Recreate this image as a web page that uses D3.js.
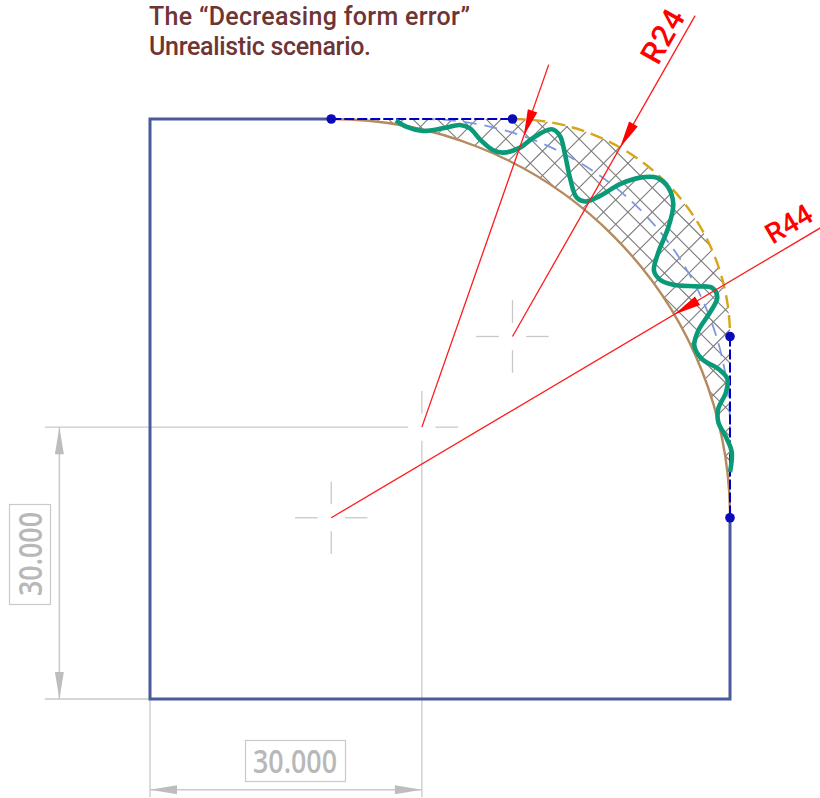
<!DOCTYPE html>
<html>
<head>
<meta charset="utf-8">
<style>
  html, body { margin: 0; padding: 0; background: #fff; }
  svg { display: block; }
</style>
<script src="https://cdn.jsdelivr.net/npm/d3@7"></script>
</head>
<body>
<script>
// all lengths in mm, origin at the lower left corner of the part
var outlinePts = [[20,64],[0,64],[0,0],[64,0],[64,20]];
var topChord = [[20,64],[40,64]];
var rightChord = [[64,40],[64,20]];
var defPts = [[20,64],[40,64],[64,40],[64,20]];

var rOuter = 24, rMid = 34, rInner = 44;
var cOuter = [40,40], cMid = [30,30], cInner = [20,20];

var profileX = [27.14,28.33,30.12,32.33,34.21,35.31,36.41,37.88,38.98,40.83,42.30,44.33,45.24,45.79,46.34,47.08,48.00,49.66,51.86,54.07,55.91,57.19,57.74,57.19,56.09,55.61,56.28,57.74,60.32,62.01,62.60,61.79,60.50,60.06,60.88,62.71,63.70,63.56,62.71,62.71,63.56,64.19,64.00];
var profileY = [63.85,63.12,62.68,62.97,63.34,62.97,61.76,60.55,60.29,60.84,61.94,62.86,62.13,60.11,57.53,55.33,54.89,55.52,56.81,57.53,57.53,56.43,54.60,52.03,49.27,47.26,46.27,45.71,45.53,45.38,44.31,42.66,40.65,39.00,37.53,36.43,35.33,33.85,32.02,30.55,28.89,27.24,25.04];

var titleLines = ['The \u201CDecreasing form error\u201D','Unrealistic scenario.'];
var titleWidths = [321,222];
var dimLabel = '30.000';
var dimValue = 30;
var radiusLeaders = [
  {c:cMid, r:rMid, end:[44,70]},
  {c:cOuter, r:rOuter, end:[60.15,75.4]},
  {c:cInner, r:rInner, end:[74,52]}
];

var width = 820, height = 798;
var x = d3.scaleLinear().domain([0,64]).range([150,730]);
var y = d3.scaleLinear().domain([0,64]).range([699,119]);
var px = function(mm) { return x(mm)-x(0); };

var svg = d3.select('body').append('svg').attr('width',width).attr('height',height);

var line = d3.line().x(function(d){return x(d[0]);}).y(function(d){return y(d[1]);});

function quarter(c,r) {
  var p = d3.path();
  p.arc(x(c[0]),y(c[1]),px(r),-Math.PI/2,0);
  return p.toString();
}

// hatched zone between the two limit radii
var zone = d3.path();
zone.moveTo(x(20),y(64));
zone.lineTo(x(40),y(64));
zone.arc(x(cOuter[0]),y(cOuter[1]),px(rOuter),-Math.PI/2,0);
zone.lineTo(x(64),y(20));
zone.arc(x(cInner[0]),y(cInner[1]),px(rInner),0,-Math.PI/2,true);
zone.closePath();

svg.append('clipPath').attr('id','zone').append('path').attr('d',zone.toString());

var hatch = svg.append('g').attr('clip-path','url(#zone)').attr('stroke','#7c7c7c').attr('stroke-width',1.1).attr('fill','none');
var step = 24.4;
d3.range(-30,40).forEach(function(i) {
  var a = 840+i*step, b = 391.4+i*step;
  hatch.append('line').attr('x1',a).attr('y1',0).attr('x2',a-800).attr('y2',800);
  hatch.append('line').attr('x1',b).attr('y1',0).attr('x2',b+800).attr('y2',800);
});

// gray dimension lines and center marks
var gray = '#c9c9c9';
var dims = svg.append('g').attr('stroke',gray).attr('fill','none');

function seg(x1,y1,x2,y2,w) {
  dims.append('line').attr('x1',x1).attr('y1',y1).attr('x2',x2).attr('y2',y2).attr('stroke-width',w||1.3);
}
function centerMark(c) {
  var cx = x(c[0]), cy = y(c[1]);
  seg(cx-px(4),cy,cx-px(1.5),cy);
  seg(cx+px(1.5),cy,cx+px(4),cy);
  seg(cx,cy-px(4),cx,cy-px(1.5));
  seg(cx,cy+px(1.5),cx,cy+px(4));
}
centerMark(cInner);
centerMark(cOuter);

// extension lines of the two 30.000 dimensions
seg(x(-11.6),y(dimValue),x(dimValue)-px(1.5),y(dimValue));
seg(x(dimValue)+px(1.5),y(dimValue),x(dimValue)+px(4),y(dimValue));
seg(x(dimValue),y(dimValue)-px(4),x(dimValue),y(dimValue)-px(1.5));
seg(x(dimValue),y(dimValue)+px(1.5),x(dimValue),y(-10.8));
seg(x(-11.6),y(0),x(0),y(0));
seg(x(0),y(0),x(0),y(-10.8));

var dimX = x(-10), dimY = y(-10);
seg(dimX,y(dimValue),dimX,y(0),1.5);
seg(x(0),dimY,x(dimValue),dimY,1.5);

function arrow(tip,dir,len,wid,col,parent) {
  var nx = -dir[1], ny = dir[0];
  (parent||svg).append('path')
    .attr('d','M'+tip[0]+','+tip[1]+'L'+(tip[0]+dir[0]*len+nx*wid/2)+','+(tip[1]+dir[1]*len+ny*wid/2)+'L'+(tip[0]+dir[0]*len-nx*wid/2)+','+(tip[1]+dir[1]*len-ny*wid/2)+'Z')
    .attr('fill',col).attr('stroke','none');
}
var arrowGray = '#bdbdbd';
arrow([dimX,y(dimValue)],[0,1],27,9,arrowGray);
arrow([dimX,y(0)],[0,-1],27,9,arrowGray);
arrow([x(0),dimY],[1,0],27,9,arrowGray);
arrow([x(dimValue),dimY],[-1,0],27,9,arrowGray);

// profile limits
svg.append('path').attr('d',quarter(cInner,rInner)).attr('fill','none').attr('stroke','#b58a5e').attr('stroke-width',2.4);
svg.append('path').attr('d',quarter(cOuter,rOuter)).attr('fill','none').attr('stroke','#d9a514').attr('stroke-width',2.4).attr('stroke-dasharray','13,7');
svg.append('path').attr('d',quarter(cMid,rMid)).attr('fill','none').attr('stroke','#7d97e2').attr('stroke-width',1.8).attr('stroke-dasharray','13,8');

svg.append('path').attr('d',line(outlinePts)).attr('fill','none').attr('stroke','#4a5b9c').attr('stroke-width',3);

[topChord,rightChord].forEach(function(c) {
  svg.append('path').attr('d',line(c)).attr('fill','none').attr('stroke','#0000c4').attr('stroke-width',2).attr('stroke-dasharray','10,3');
});

svg.selectAll('circle.def').data(defPts).enter().append('circle').attr('class','def')
  .attr('cx',function(d){return x(d[0]);}).attr('cy',function(d){return y(d[1]);})
  .attr('r',4.8).attr('fill','#0a0ab8');

// measured profile
var profile = profileX.map(function(v,i){return [v,profileY[i]];});
svg.append('path').attr('d',line.curve(d3.curveCatmullRom.alpha(0.5))(profile))
  .attr('fill','none').attr('stroke','#0a9a78').attr('stroke-width',4.6).attr('stroke-linecap','butt');
line.curve(d3.curveLinear);

// red radius leaders
radiusLeaders.forEach(function(l) {
  var cx = x(l.c[0]), cy = y(l.c[1]), ex = x(l.end[0]), ey = y(l.end[1]);
  var len = Math.sqrt((ex-cx)*(ex-cx)+(ey-cy)*(ey-cy));
  var dir = [(ex-cx)/len,(ey-cy)/len];
  svg.append('line').attr('x1',cx).attr('y1',cy).attr('x2',ex).attr('y2',ey).attr('stroke','#ff1a1a').attr('stroke-width',1.3);
  arrow([cx+dir[0]*px(l.r),cy+dir[1]*px(l.r)],dir,27,10,'#ff0000');
});

var labelFont = 'Roboto, sans-serif';
svg.append('text').text('R24').attr('transform','translate(663,36) rotate(-60.5)')
  .attr('text-anchor','middle').attr('dominant-baseline','central')
  .attr('font-family',labelFont).attr('font-weight',500).attr('font-size',31).attr('fill','#ff0000').attr('letter-spacing',1);
svg.append('text').text('R44').attr('transform','translate(789,224) rotate(-30.7)')
  .attr('text-anchor','middle').attr('dominant-baseline','central')
  .attr('font-family',labelFont).attr('font-weight',500).attr('font-size',28).attr('fill','#ff0000');

// framed dimension values
svg.append('rect').attr('x',245.5).attr('y',740.5).attr('width',100).attr('height',41).attr('fill','#fff').attr('stroke',gray).attr('stroke-width',1.2);
svg.append('text').text(dimLabel).attr('x',295).attr('y',772.5).attr('text-anchor','middle')
  .attr('font-family','"Open Sans", sans-serif').attr('font-weight',600).attr('font-size',32).attr('fill','#b8b8b8').attr('textLength',84).attr('lengthAdjust','spacingAndGlyphs');

svg.append('rect').attr('x',9.5).attr('y',504.5).attr('width',41).attr('height',100).attr('fill','#fff').attr('stroke',gray).attr('stroke-width',1.2);
svg.append('text').text(dimLabel).attr('transform','translate(41.5,554) rotate(-90)').attr('text-anchor','middle')
  .attr('font-family','"Open Sans", sans-serif').attr('font-weight',600).attr('font-size',32).attr('fill','#b8b8b8').attr('textLength',84).attr('lengthAdjust','spacingAndGlyphs');

// title
svg.selectAll('text.title').data(titleLines).enter().append('text').attr('class','title')
  .text(function(d){return d;})
  .attr('x',149).attr('y',function(d,i){return 25+i*30;})
  .attr('font-family','Roboto, sans-serif').attr('font-weight',500).attr('font-size',25)
  .attr('fill','#6e3535').attr('textLength',function(d,i){return titleWidths[i];}).attr('lengthAdjust','spacing');
</script>
</body>
</html>
